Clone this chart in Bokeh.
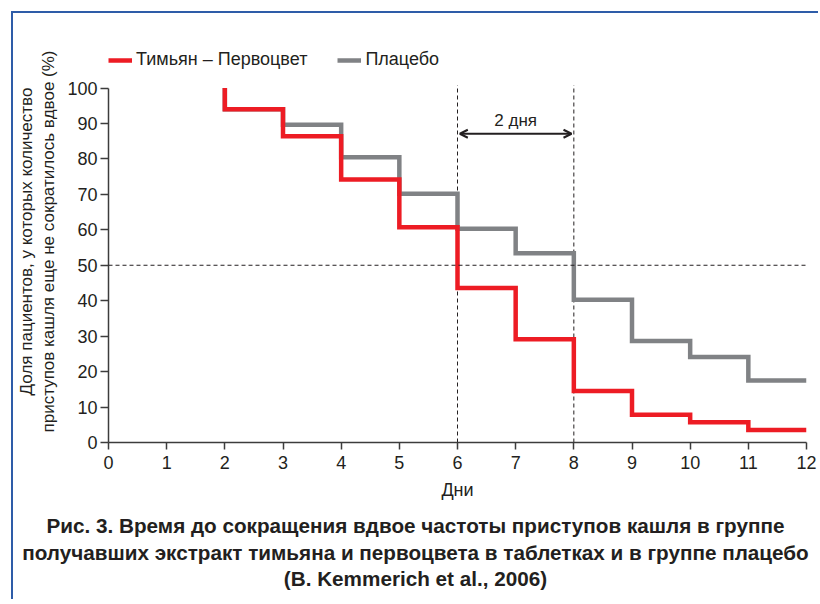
from bokeh.plotting import figure
from bokeh.layouts import column
from bokeh.models import Range1d, FixedTicker, Span, Arrow, OpenHead, Label, Legend, LegendItem, Div
from bokeh.embed import file_html
from bokeh.resources import INLINE

# ---- data ----
days_red = [2, 2, 3, 4, 5, 6, 7, 8, 9, 10, 11, 12]
share_red = [100, 94, 86.4, 74.2, 60.7, 43.6, 29.1, 14.5, 7.8, 5.7, 3.5, 3.5]
days_gray = [2, 2, 3, 4, 5, 6, 7, 8, 9, 10, 11, 12]
share_gray = [100, 94, 89.6, 80.5, 70.2, 60.3, 53.4, 40.3, 28.6, 24.1, 17.5, 17.5]
x_ticks = list(range(0, 13))
y_ticks = list(range(0, 101, 10))
half_days = [6, 8]
half_level = 50
arrow_level = 87.1
series_names = ["Тимьян – Первоцвет", "Плацебо"]
y_label_lines = ["Доля пациентов, у которых количество",
                 "приступов кашля еще не сократилось вдвое (%)"]
x_label = "Дни"
arrow_text = "2 дня"
caption_lines = ["Рис. 3. Время до сокращения вдвое частоты приступов кашля в группе",
                 "получавших экстракт тимьяна и первоцвета в таблетках и в группе плацебо",
                 "(B. Kemmerich et al., 2006)"]

TXT = "#231f20"
RED = "#ed1c24"
GRAY = "#808285"
FONT = "Liberation Sans"

# frame extends above 100 so the legend can sit inside it; axis is bounded to 0..100
p = figure(width=805, height=496, x_range=Range1d(0, 12), y_range=Range1d(0, 113.4),
           output_backend="svg", toolbar_location=None,
           min_border_left=95, min_border_right=12, min_border_top=27, min_border_bottom=67)
p.xgrid.visible = False
p.ygrid.visible = False
p.outline_line_color = None

for ax, ticks in ((p.xaxis, x_ticks), (p.yaxis, y_ticks)):
    ax.ticker = FixedTicker(ticks=ticks)
    ax.minor_tick_line_color = None
    ax.major_tick_in = 0
    ax.axis_line_color = "#3c3c3c"
    ax.axis_line_width = 1.5
    ax.major_tick_line_color = "#3c3c3c"
    ax.major_tick_line_width = 1.5
    ax.major_label_text_font = FONT
    ax.major_label_text_font_size = "18px"
    ax.major_label_text_color = TXT
    ax.axis_label_text_font = FONT
    ax.axis_label_text_font_style = "normal"
    ax.axis_label_text_color = TXT
p.yaxis.bounds = (y_ticks[0], y_ticks[-1])
p.xaxis.major_tick_out = 7
p.yaxis.major_tick_out = 8
p.xaxis.major_label_standoff = 6
p.yaxis.major_label_standoff = 3
p.xaxis.axis_label = x_label
p.xaxis.axis_label_text_font_size = "18px"
p.xaxis.axis_label_standoff = 8
p.yaxis.axis_label = "\n".join(y_label_lines)
p.yaxis.axis_label_text_font_size = "17px"
p.yaxis.axis_label_standoff = 6

# reference lines
p.segment(x0=half_days, y0=[0] * len(half_days), x1=half_days, y1=[100.8] * len(half_days),
          line_dash="4 3", line_width=1, line_color=TXT)
p.add_layout(Span(location=half_level, dimension="width", line_dash="4 3", line_width=1, line_color=TXT))

r_gray = p.step(days_gray, share_gray, mode="after", line_color=GRAY, line_width=4.5, line_join="miter")
r_red = p.step(days_red, share_red, mode="after", line_color=RED, line_width=4.5, line_join="miter")

p.add_layout(Arrow(start=OpenHead(size=8, line_width=2, line_color=TXT),
                   end=OpenHead(size=8, line_width=2, line_color=TXT),
                   x_start=half_days[0] + 0.04, x_end=half_days[1] - 0.04,
                   y_start=arrow_level, y_end=arrow_level, line_width=2, line_color=TXT))
p.add_layout(Label(x=(half_days[0] + half_days[1]) / 2, y=90.9, text=arrow_text,
                   text_align="center", text_baseline="middle", text_font=FONT,
                   text_font_size="17px", text_color=TXT))

legend = Legend(items=[LegendItem(label=series_names[0], renderers=[r_red]),
                       LegendItem(label=series_names[1], renderers=[r_gray])],
                orientation="horizontal", location=(0, 372),
                label_text_font=FONT, label_text_font_size="18px", label_text_color=TXT,
                glyph_width=24, glyph_height=20, label_height=20, label_standoff=4, spacing=30,
                padding=0, margin=0, border_line_color=None, background_fill_alpha=0)
p.add_layout(legend)

caption = Div(text=('<div style="padding-top:4px;text-align:center;white-space:nowrap;'
                    'font-family:\'Liberation Sans\';font-weight:bold;font-size:20.7px;'
                    'line-height:26.5px;color:%s;width:805px">' % TXT)
                   + "<br>".join(caption_lines) + "</div>",
              width=805, height=90, margin=0)

layout = column(p, caption, spacing=0,
                styles={"border-left": "2px solid #2e5ca8", "border-top": "2px solid #2e5ca8",
                        "margin-left": "11px", "margin-top": "11px"})

open("out.html", "w").write(file_html(layout, INLINE))
